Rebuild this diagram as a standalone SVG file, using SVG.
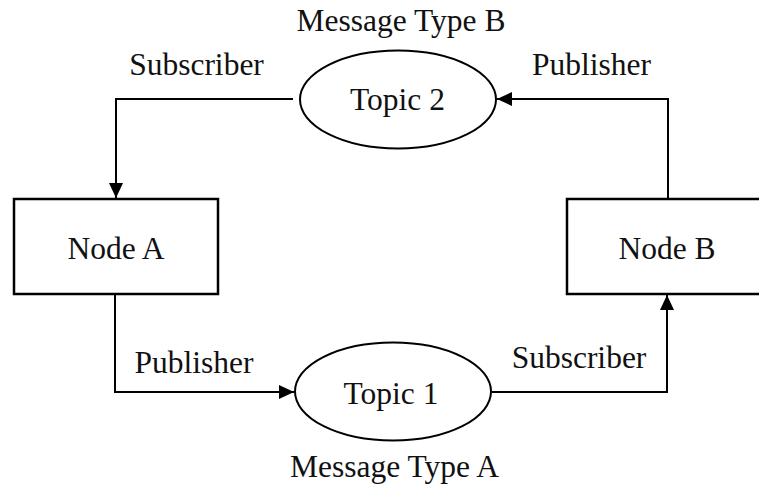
<svg xmlns="http://www.w3.org/2000/svg" width="759" height="486" viewBox="0 0 759 486">
  <style>
    .box { fill: #ffffff; stroke: #000000; stroke-width: 2.5; }
    .topic { fill: #ffffff; stroke: #000000; stroke-width: 2; }
    .edge { fill: none; stroke: #000000; stroke-width: 2; }
    text { font-family: "Liberation Serif", "Times New Roman", serif; font-size: 31.5px; fill: #111111; text-anchor: middle; }
  </style>
  <defs>
    <marker id="arrow" markerUnits="userSpaceOnUse" markerWidth="16" markerHeight="14" refX="15" refY="7" orient="auto">
      <polygon points="0,0 15,7 0,14" fill="#000000"/>
    </marker>
  </defs>

  <rect width="759" height="486" fill="#ffffff"/>

  <!-- publish / subscribe links -->
  <g id="connectors">
    <path class="edge" d="M 293 99 H 116 V 198" marker-end="url(#arrow)"/>
    <path class="edge" d="M 668 199 V 99 H 497" marker-end="url(#arrow)"/>
    <path class="edge" d="M 115 294 V 392 H 294" marker-end="url(#arrow)"/>
    <path class="edge" d="M 492 392 H 667 V 295" marker-end="url(#arrow)"/>
    <text x="196.5" y="75">Subscriber</text>
    <text x="591.5" y="75">Publisher</text>
    <text x="194" y="373">Publisher</text>
    <text x="579" y="368">Subscriber</text>
  </g>

  <g id="node-a">
    <rect class="box" x="14" y="199" width="204" height="95"/>
    <text x="116" y="258.5">Node A</text>
  </g>

  <g id="node-b">
    <rect class="box" x="567" y="199" width="204" height="95"/>
    <text x="667" y="258.5">Node B</text>
  </g>

  <g id="topic-2">
    <ellipse class="topic" cx="398" cy="99.5" rx="98" ry="49"/>
    <text x="397.5" y="110">Topic 2</text>
    <text x="401" y="31">Message Type B</text>
  </g>

  <g id="topic-1">
    <ellipse class="topic" cx="393" cy="391.5" rx="98" ry="49"/>
    <text x="391" y="404">Topic 1</text>
    <text x="394.5" y="476.5">Message Type A</text>
  </g>
</svg>
